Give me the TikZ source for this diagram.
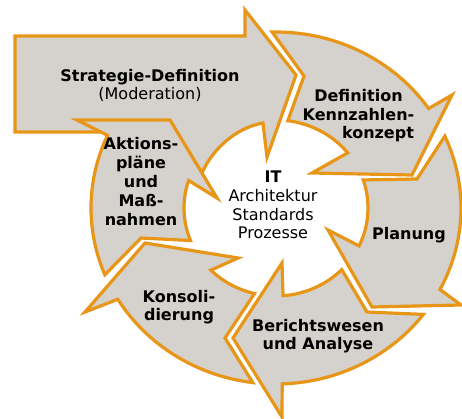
\documentclass[tikz,border=0pt]{standalone}
\usepackage{fontspec}
\setmainfont{DejaVu Sans}
\definecolor{arrowfill}{RGB}{213,209,204}
\definecolor{arroworange}{RGB}{232,150,24}
\begin{document}
\begin{tikzpicture}[x=1pt,y=-1pt,
  arrowshape/.style={fill=arrowfill, draw=arroworange, line width=3.2pt, line join=miter},
  boldlabel/.style={font=\fontsize{16}{18.5}\selectfont\bfseries, align=center, inner sep=0pt, text=black},
  plainlabel/.style={font=\fontsize{16}{18.7}\selectfont, align=center, inner sep=0pt, text=black}]
\useasboundingbox[fill=white] (0,0) rectangle (462,419);

% Strategie-Definition block arrow
\draw[arrowshape] (15,36) -- (245,36) -- (245,10) -- (296,75) -- (267,157) -- (263,123)
  .. controls (235,128) and (212,150) .. (202,173) -- (172,126) -- (110,132) -- (15,132) -- cycle;

% Aktionsplaene
\draw[arrowshape] plot[domain=0:1,samples=30,variable=\t] ({276+185*cos(157.7+46.7*\t)},{208+176*sin(157.7+46.7*\t)})
  -- (77,120) -- (170,120) -- (217,198)
  -- plot[domain=0:1,samples=30,variable=\t] ({276+92*cos(198.2-39.9*\t)},{208+88*sin(198.2-39.9*\t)})
  -- (141,238) -- cycle;

% Konsolidierung
\draw[arrowshape] plot[domain=0:1,samples=30,variable=\t] ({276+185*cos(97.2+51.6*\t)},{208+176*sin(97.2+51.6*\t)})
  -- (85,312) -- (145,243) -- (238,258)
  -- plot[domain=0:1,samples=30,variable=\t] ({276+92*cos(135.1-31.6*\t)},{208+88*sin(135.1-31.6*\t)})
  -- (225,338) -- cycle;

% Berichtswesen
\draw[arrowshape] plot[domain=0:1,samples=30,variable=\t] ({276+185*cos(37.2+50.9*\t)},{208+176*sin(37.2+50.9*\t)})
  -- (282,417) -- (233,338) -- (282,263)
  -- plot[domain=0:1,samples=30,variable=\t] ({276+92*cos(85.6-41.2*\t)},{208+88*sin(85.6-41.2*\t)})
  -- (367,312) -- cycle;

% Planung
\draw[arrowshape] plot[domain=0:1,samples=30,variable=\t] ({276+185*cos(-24.1+51.7*\t)},{208+176*sin(-24.1+51.7*\t)})
  -- (461,305) -- (372,307) -- (328,230)
  -- plot[domain=0:1,samples=30,variable=\t] ({276+92*cos(25.5-44.1*\t)},{208+88*sin(25.5-44.1*\t)})
  -- (417,179) -- cycle;

% Definition Kennzahlenkonzept
\draw[arrowshape] plot[domain=0:1,samples=30,variable=\t] ({276+185*cos(-91.2+56.8*\t)},{208+176*sin(-91.2+56.8*\t)})
  -- (452,95) -- (412,175) -- (312,173)
  -- plot[domain=0:1,samples=30,variable=\t] ({276+92*cos(-38.8-43.8*\t)},{208+88*sin(-38.8-43.8*\t)})
  -- (304,76) -- cycle;

% Labels
\node[boldlabel] (strat) at (150,85.7) {Strategie-Definition\\{\mdseries (Moderation)}};
\node[boldlabel] (defin) at (358.5,115.8) {Definition\\Kennzahlen-\\\hspace*{39pt}konzept};
\node[boldlabel, font=\fontsize{16}{19}\selectfont\bfseries] (aktion) at (141,181.9) {Aktions-\\pläne\\und\\Maß-\\nahmen};
\node[plainlabel] (itcore) at (273,205.2) {\textbf{IT}\\Architektur\\Standards\\Prozesse};
\node[boldlabel] (plan) at (409,234.8) {Planung};
\node[boldlabel, font=\fontsize{16}{18}\selectfont\bfseries] (bericht) at (318,335.8) {Berichtswesen\\und Analyse};
\node[boldlabel, font=\fontsize{16}{18}\selectfont\bfseries] (konsol) at (179,306.8) {Konsoli-\\dierung};
\end{tikzpicture}
\end{document}
